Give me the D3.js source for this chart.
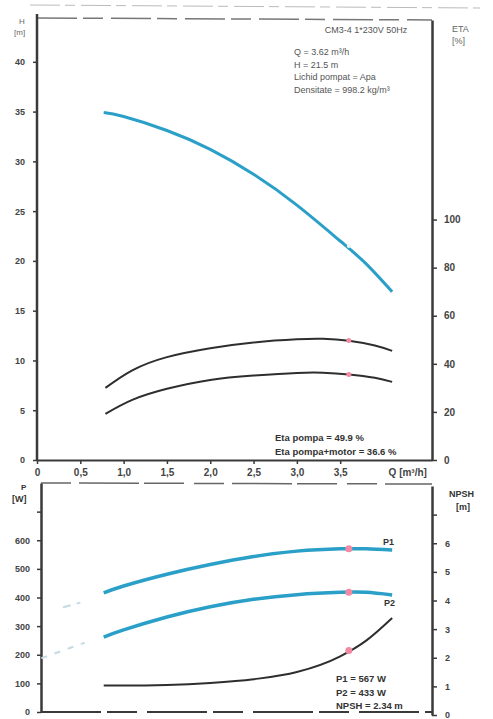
<!DOCTYPE html>
<html><head><meta charset="utf-8">
<script src="https://cdn.jsdelivr.net/npm/d3@7"></script>
<style>
body{margin:0;background:#fff;}
svg{display:block;font-family:"Liberation Sans",Arial,sans-serif;}
</style></head>
<body><div id="chart"></div>
<script>
// ---- data ----
const qTicks = [0, 0.5, 1.0, 1.5, 2.0, 2.5, 3.0, 3.5];
const qTickLabels = ["0", "0,5", "1,0", "1,5", "2,0", "2,5", "3,0", "3,5"];
const hTicks = [0, 5, 10, 15, 20, 25, 30, 35, 40];
const etaTicks = [0, 20, 40, 60, 80, 100];
const pTicks = [0, 100, 200, 300, 400, 500, 600, 700];
const npshTicks = [0, 1, 2, 3, 4, 5, 6, 7];

const qH = [0.77, 1.0, 1.5, 2.0, 2.5, 3.0, 3.5, 3.8, 4.1];
const hVals = [34.9, 34.5, 33.1, 31.2, 28.7, 25.6, 22.0, 19.7, 16.9];

const qEta = [0.79, 1.1, 1.5, 2.0, 2.5, 3.0, 3.3, 3.6, 3.9, 4.1];
const etaPump = [30.0, 37.3, 42.8, 46.5, 48.9, 50.2, 50.4, 49.6, 47.6, 45.4];
const etaTotal = [19.2, 25.0, 29.6, 33.3, 35.1, 36.2, 36.3, 35.6, 34.2, 32.5];

const qP = [0.77, 1.0, 1.5, 2.0, 2.5, 3.0, 3.5, 3.8, 4.1];
const p1Vals = [416, 440, 481, 515, 543, 562, 570, 570, 566];
const p2Vals = [262, 287, 332, 368, 394, 410, 418, 418, 409];
const npshVals = [1.03, 1.03, 1.05, 1.12, 1.25, 1.5, 2.05, 2.6, 3.39];

const qP1ext = [0.3, 0.5];
const p1ext = [366, 382];
const qP2ext = [0.05, 0.55];
const p2ext = [188, 242];

const duty = {q: 3.6, h: 21.5, etaPump: 49.7, etaTotal: 35.6, p1: 570, p2: 418, npsh: 2.25};

const infoLines = ["Q = 3.62 m\u00B3/h", "H = 21.5 m", "Lichid pompat = Apa", "Densitate = 998.2 kg/m\u00B3"];
const etaLines = ["Eta pompa = 49.9 %", "Eta pompa+motor = 36.6 %"];
const powLines = ["P1 = 567 W", "P2 = 433 W", "NPSH = 2.34 m"];

// ---- drawing ----
const W = 493, H = 719;
const svg = d3.select("#chart").append("svg").attr("width", W).attr("height", H);
const blue = "#2a9fc8", dark = "#2e2e2e", pink = "#f28aa4", axisC = "#3a3a3a";

const x = d3.scaleLinear().domain([0, 4.56]).range([37, 432]);
const yH = d3.scaleLinear().domain([0, 44.2]).range([460, 20]);
const yEta = d3.scaleLinear().domain([0, 183]).range([460, 20]);
const yP = d3.scaleLinear().domain([0, 800]).range([712, 483]);
const yN = d3.scaleLinear().domain([0, 8]).range([715, 486]);

function styleAxis(g, fs) {
  g.select(".domain").attr("stroke", axisC).attr("stroke-width", 2.5);
  g.selectAll(".tick line").attr("stroke", axisC).attr("stroke-width", 1.5);
  g.selectAll(".tick text").attr("fill", "#444").attr("font-size", fs).attr("font-weight", "bold");
}

// top chart frame
svg.append("line").attr("x1", 37).attr("x2", 432).attr("y1", 18).attr("y2", 20)
  .attr("stroke", "#777").attr("stroke-width", 1.5).attr("stroke-dasharray", "40,6,20,8");
svg.append("line").attr("x1", 30).attr("x2", 480).attr("y1", 5).attr("y2", 8)
  .attr("stroke", "#bbb").attr("stroke-width", 1).attr("stroke-dasharray", "30,5,10,6");

const gL = svg.append("g").attr("transform", "translate(37,0)")
  .call(d3.axisLeft(yH).tickValues(hTicks).tickSize(4).tickSizeOuter(0).tickPadding(8));
styleAxis(gL, 9);
gL.select(".domain").attr("d", `M0,${yH(44.2) - 6}V${yH(0)}`);

const gR = svg.append("g").attr("transform", "translate(432,0)")
  .call(d3.axisRight(yEta).tickValues(etaTicks).tickSize(5).tickSizeOuter(0).tickPadding(7));
styleAxis(gR, 10);

const gB = svg.append("g").attr("transform", `translate(0,${yH(0)})`)
  .call(d3.axisBottom(x).tickValues(qTicks).tickFormat((d, i) => qTickLabels[i]).tickSize(4).tickSizeOuter(0).tickPadding(5));
styleAxis(gB, 10);
gB.select(".domain").attr("stroke-width", 2);

svg.append("text").attr("x", x(4.28)).attr("y", 476).attr("text-anchor", "middle")
  .attr("font-size", 10).attr("font-weight", "bold").attr("fill", "#444").text("Q [m\u00B3/h]");

// axis titles
svg.append("text").attr("x", 19).attr("y", 24).attr("font-size", 8).attr("fill", "#666").text("H");
svg.append("text").attr("x", 14).attr("y", 35).attr("font-size", 8).attr("fill", "#666").text("[m]");
svg.append("text").attr("x", 452).attr("y", 32).attr("font-size", 9).attr("fill", "#666").text("ETA");
svg.append("text").attr("x", 452).attr("y", 44).attr("font-size", 9).attr("fill", "#666").text("[%]");

// info box
svg.append("text").attr("x", 366).attr("y", 33).attr("text-anchor", "middle")
  .attr("font-size", 9).attr("fill", "#555").text("CM3-4 1*230V 50Hz");
svg.selectAll("text.info").data(infoLines).enter().append("text").attr("class", "info")
  .attr("x", 294).attr("y", (d, i) => 55 + i * 12.5).attr("font-size", 9).attr("fill", "#555").text(d => d);

// curves top
const lineH = d3.line().x((d, i) => x(qH[i])).y(d => yH(d)).curve(d3.curveNatural);
svg.append("path").attr("d", lineH(hVals)).attr("fill", "none").attr("stroke", blue).attr("stroke-width", 3);

const lineEta = d3.line().x((d, i) => x(qEta[i])).y(d => yEta(d)).curve(d3.curveNatural);
svg.append("path").attr("d", lineEta(etaPump)).attr("fill", "none").attr("stroke", dark).attr("stroke-width", 2);
svg.append("path").attr("d", lineEta(etaTotal)).attr("fill", "none").attr("stroke", dark).attr("stroke-width", 2);

svg.append("circle").attr("cx", x(duty.q)).attr("cy", yEta(duty.etaPump)).attr("r", 2.5).attr("fill", pink);
svg.append("circle").attr("cx", x(duty.q)).attr("cy", yEta(duty.etaTotal)).attr("r", 2.5).attr("fill", pink);
svg.append("circle").attr("cx", x(duty.q)).attr("cy", yH(duty.h)).attr("r", 2).attr("fill", "#e8f4f8");

svg.selectAll("text.eta").data(etaLines).enter().append("text").attr("class", "eta")
  .attr("x", 275).attr("y", (d, i) => 441 + i * 14).attr("font-size", 9.5).attr("font-weight", "bold")
  .attr("fill", "#333").text(d => d);

// bottom chart frame
svg.append("line").attr("x1", 41).attr("x2", 432).attr("y1", 483).attr("y2", 484)
  .attr("stroke", "#666").attr("stroke-width", 1.5).attr("stroke-dasharray", "30,8,60,5,40,10");

const gPL = svg.append("g").attr("transform", "translate(41,0)")
  .call(d3.axisLeft(yP).tickValues(pTicks).tickFormat(d => d === 700 ? "" : d).tickSize(4).tickSizeOuter(0).tickPadding(7));
styleAxis(gPL, 9);

const gNR = svg.append("g").attr("transform", "translate(432,0)")
  .call(d3.axisRight(yN).tickValues(npshTicks).tickFormat(d => d === 7 ? "" : d).tickSize(5).tickSizeOuter(0).tickPadding(8));
styleAxis(gNR, 9);

svg.append("line").attr("x1", 41).attr("x2", 432).attr("y1", yP(0)).attr("y2", yP(0))
  .attr("stroke", axisC).attr("stroke-width", 2).attr("stroke-dasharray", "60,6,30,10");

svg.append("text").attr("x", 21).attr("y", 490).attr("font-size", 8).attr("font-weight", "bold").attr("fill", "#333").text("P");
svg.append("text").attr("x", 12).attr("y", 502).attr("font-size", 9).attr("font-weight", "bold").attr("fill", "#333").text("[W]");
svg.append("text").attr("x", 449).attr("y", 497).attr("font-size", 9).attr("font-weight", "bold").attr("fill", "#333").text("NPSH");
svg.append("text").attr("x", 456).attr("y", 510).attr("font-size", 9).attr("font-weight", "bold").attr("fill", "#333").text("[m]");

const lineP = d3.line().x((d, i) => x(qP[i])).y(d => yP(d)).curve(d3.curveNatural);
svg.append("path").attr("d", lineP(p1Vals)).attr("fill", "none").attr("stroke", blue).attr("stroke-width", 3.5);
svg.append("path").attr("d", lineP(p2Vals)).attr("fill", "none").attr("stroke", blue).attr("stroke-width", 3.5);
const lineN = d3.line().x((d, i) => x(qP[i])).y(d => yN(d)).curve(d3.curveMonotoneX);
svg.append("path").attr("d", lineN(npshVals)).attr("fill", "none").attr("stroke", dark).attr("stroke-width", 2);

const lineE1 = d3.line().x((d, i) => x(qP1ext[i])).y(d => yP(d));
svg.append("path").attr("d", lineE1(p1ext)).attr("fill", "none").attr("stroke", "#c5dbe2").attr("stroke-width", 2).attr("stroke-dasharray", "8,6");
const lineE2 = d3.line().x((d, i) => x(qP2ext[i])).y(d => yP(d));
svg.append("path").attr("d", lineE2(p2ext)).attr("fill", "none").attr("stroke", "#c5dbe2").attr("stroke-width", 2).attr("stroke-dasharray", "6,8");

svg.append("circle").attr("cx", x(duty.q)).attr("cy", yP(duty.p1)).attr("r", 3.5).attr("fill", pink);
svg.append("circle").attr("cx", x(duty.q)).attr("cy", yP(duty.p2)).attr("r", 3.5).attr("fill", pink);
svg.append("circle").attr("cx", x(duty.q)).attr("cy", yN(duty.npsh)).attr("r", 3.5).attr("fill", pink);

svg.append("text").attr("x", 383).attr("y", 545).attr("font-size", 9).attr("font-weight", "bold").attr("fill", "#333").text("P1");
svg.append("text").attr("x", 384).attr("y", 606).attr("font-size", 9).attr("font-weight", "bold").attr("fill", "#333").text("P2");

svg.selectAll("text.pow").data(powLines).enter().append("text").attr("class", "pow")
  .attr("x", 336).attr("y", (d, i) => 682 + i * 13.5).attr("font-size", 9.5).attr("font-weight", "bold")
  .attr("fill", "#333").text(d => d);
</script></body></html>
